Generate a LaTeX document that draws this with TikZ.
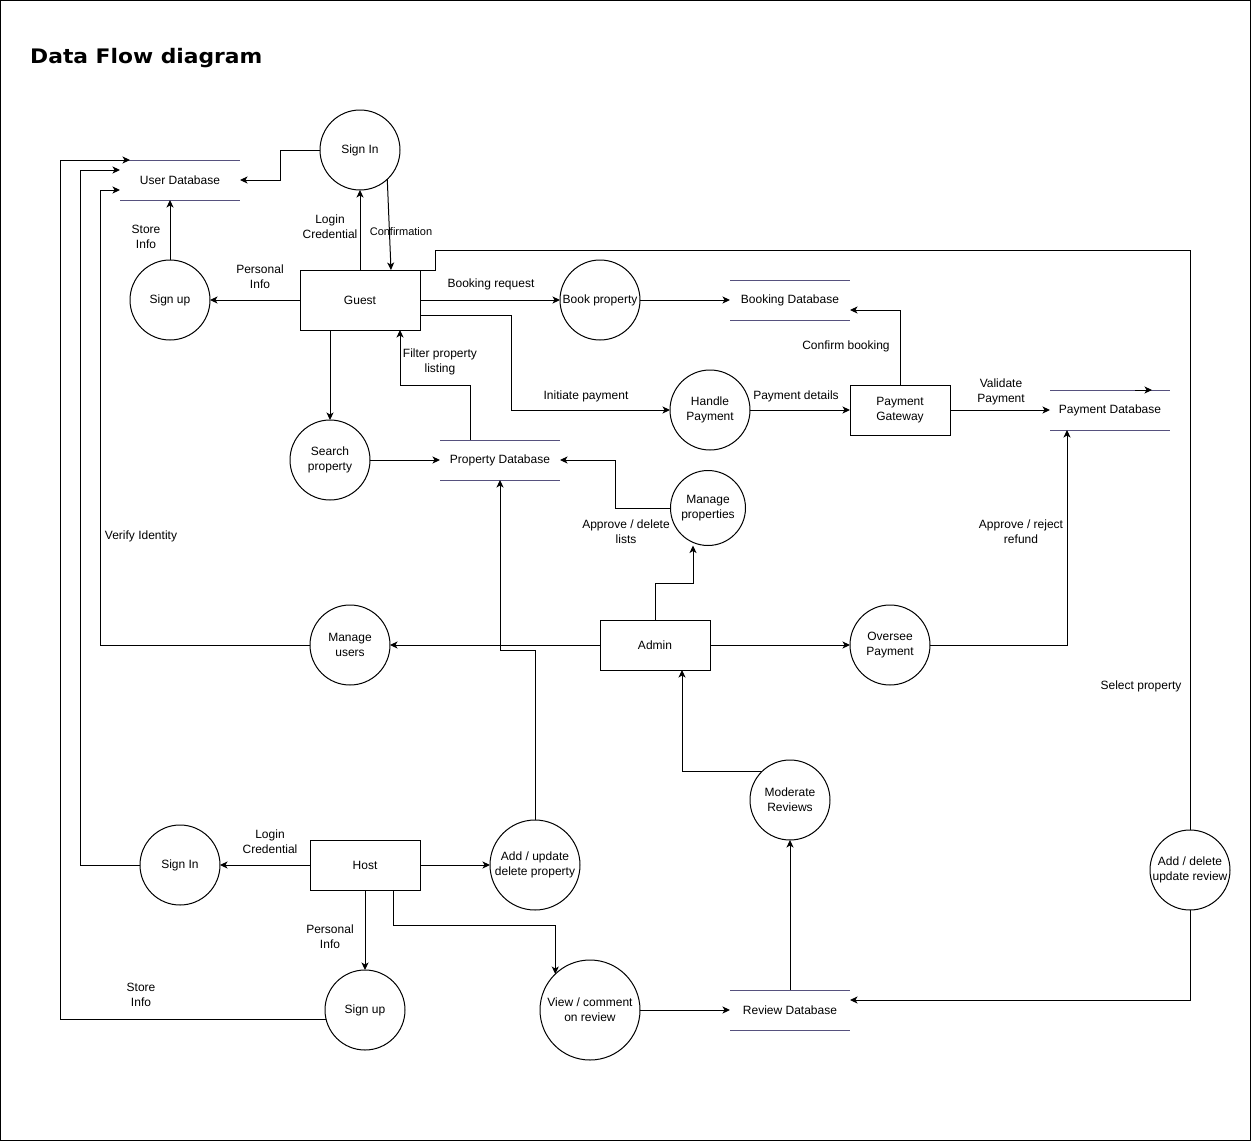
\documentclass[tikz,border=0pt]{standalone}
\usepackage{fontspec}
\setmainfont{Liberation Sans}
\newfontfamily\titlefont{DejaVu Sans}[FakeStretch=1.09]
\usetikzlibrary{arrows.meta,calc}
\definecolor{dbcol}{HTML}{56517E}
\newcommand\fs{\fontsize{12}{15}\selectfont}
\newcommand\fss{\fontsize{11}{13}\selectfont}
\newcommand\dbl[1]{\draw[dbline] (#1.north west) -- (#1.north east) (#1.south west) -- (#1.south east);}
\tikzset{
  proc/.style={circle, draw, line width=1pt, minimum size=80pt, inner sep=-8pt, outer sep=0pt, align=center, font=\fs},
  ent/.style={rectangle, draw, line width=1pt, inner sep=0pt, outer sep=0pt, align=center, font=\fs},
  store/.style={rectangle, minimum width=120pt, minimum height=40pt, inner sep=0pt, outer sep=0pt, font=\fs},
  dbline/.style={draw=dbcol, line width=1pt},
  lbl/.style={align=center, font=\fs, inner sep=0pt},
  flow/.style={-{Stealth[length=7.5pt,width=7pt,inset=2pt]}, line width=1pt},
  plain/.style={line width=1pt},
}
\begin{document}
\begin{tikzpicture}[x=1pt,y=-1pt]
\useasboundingbox (0,0) rectangle (1251,1141);
\draw[line width=1pt] (0.5,0.5) rectangle (1250,1140);
\node[anchor=base west, inner sep=0pt, font={\titlefont\bfseries\fontsize{20}{24}\selectfont}] (title) at (30,63.5) {Data Flow diagram};

% processes
\node[proc] (SignIn1) at (360,150) {Sign In};
\node[proc] (SignUp1) at (170,300) {Sign up};
\node[proc] (BookProp) at (600,300) {Book property};
\node[proc] (HandlePay) at (710,410) {Handle\\Payment};
\node[proc] (Search) at (330,460) {Search\\property};
\node[proc, minimum size=75pt] (MngProps) at (708,508) {Manage\\properties};
\node[proc] (MngUsers) at (350,645) {Manage\\users};
\node[proc] (Oversee) at (890,645) {Oversee\\Payment};
\node[proc] (Moderate) at (790,800) {Moderate\\Reviews};
\node[proc] (SignIn2) at (180,865) {Sign In};
\node[proc] (SignUp2) at (365,1010) {Sign up};
\node[proc, minimum size=90pt] (AddProp) at (535,865) {Add / update\\delete property};
\node[proc, minimum size=100pt] (View) at (590,1010) {View / comment\\on review};
\node[proc] (AddReview) at (1190,870) {Add / delete\\update review};

% entities
\node[ent, minimum width=120pt, minimum height=60pt] (Guest) at (360,300) {Guest};
\node[ent, minimum width=100pt, minimum height=50pt] (PayGate) at (900,410) {Payment\\Gateway};
\node[ent, minimum width=110pt, minimum height=50pt] (Admin) at (655,645) {Admin};
\node[ent, minimum width=110pt, minimum height=50pt] (Host) at (365,865) {Host};

% stores
\node[store] (UserDB) at (180,180) {User Database};
\node[store] (BookingDB) at (790,300) {Booking Database};
\node[store] (PropDB) at (500,460) {Property Database};
\node[store] (PayDB) at (1110,410) {Payment Database};
\node[store] (ReviewDB) at (790,1010) {Review Database};
\dbl{UserDB}\dbl{BookingDB}\dbl{PropDB}\dbl{PayDB}\dbl{ReviewDB}
\coordinate (pdbA) at ([xshift=25pt]PayDB.north);
\draw[flow] (pdbA) -- ++(17,0);

% connectors
\draw[flow] (SignIn1.west) -- ++(-40,0) |- (UserDB.east);
\draw[flow] (SignUp1.north) -- (SignUp1.north |- UserDB.south);
\draw[flow] (Guest.west) -- (SignUp1.east);
\draw[flow] (Guest.north) -- (SignIn1.south);
\draw[flow] (SignIn1.-47) -- ([xshift=31pt]Guest.north);
\draw[flow] (Guest.east) -- (BookProp.west);
\draw[flow] (BookProp.east) -- (BookingDB.west);
\draw[flow] ([yshift=-15pt]Guest.east) -- ++(91,0) |- (HandlePay.west);
\draw[flow] (HandlePay.east) -- (PayGate.west);
\draw[flow] (PayGate.north) |- ([yshift=-10pt]BookingDB.east);
\draw[flow] (PayGate.east) -- (PayDB.west);
\draw[flow] (Search.east) -- (PropDB.west);
\draw[flow] ([xshift=-30pt]Guest.south) -- (Search.north);
\draw[flow] ([xshift=-30pt]PropDB.north) -- ++(0,-55) -| ([xshift=40pt]Guest.south);
\draw[flow] (MngProps.west) -- ++(-55,0) |- (PropDB.east);
\draw[flow] (Admin.north) -- ++(0,-37) -| ([xshift=-15pt]MngProps.south);
\draw[flow] (Admin.west) -- (MngUsers.east);
\draw[flow] (MngUsers.west) -- ++(-210,0) |- ([yshift=-10pt]UserDB.west);
\draw[flow] (Admin.east) -- (Oversee.west);
\draw[flow] (Oversee.east) -| ([xshift=-43pt]PayDB.south);
\draw[flow] (Moderate.135.6) -| ([xshift=27pt]Admin.south);
\draw[flow] (AddProp.north) -- ++(0,-170) -| (PropDB.south);
\draw[flow] (Host.east) -- (AddProp.west);
\draw[flow] (Host.west) -- (SignIn2.east);
\draw[flow] (SignIn2.west) -- ++(-60,0) |- ([yshift=10pt]UserDB.west);
\draw[flow] (Host.south) -- (SignUp2.north);
\draw[flow] (SignUp2.194.5) -- ++(-265.3,0) |- ([xshift=10pt,yshift=20pt]UserDB.west);
\draw[flow] ([xshift=28pt]Host.south) -- ++(0,35) -| (View.134.4);
\draw[flow] (View.east) -- (ReviewDB.west);
\draw[flow] (ReviewDB.north) -- (Moderate.south);
\draw[flow] (AddReview.south) |- ([yshift=10pt]ReviewDB.east);
\draw[plain] (Guest.north east) -- ++(15,0) -- ++(0,-20) -| (AddReview.north);

% labels
\node[lbl] (l1) at (146,237) {Store\\Info};
\node[lbl] (l2) at (260,277) {Personal\\Info};
\node[lbl] (l3) at (330,227) {Login\\Credential};
\node[lbl, font=\fss] (l4) at (401,232) {Confirmation};
\node[lbl] (l5) at (491,284) {Booking request};
\node[lbl] (l6) at (440,362) {Filter property\\listing};
\node[lbl] (l7) at (586,396) {Initiate payment};
\node[lbl] (l8) at (796,396) {Payment details};
\node[lbl] (l9) at (846,346) {Confirm booking};
\node[lbl] (l10) at (1001,392) {Validate\\Payment};
\node[lbl] (l11) at (626,532) {Approve / delete\\lists};
\node[lbl] (l12) at (1021,532) {Approve / reject\\refund};
\node[lbl] (l13) at (141,536) {Verify Identity};
\node[lbl] (l14) at (1141,686) {Select property};
\node[lbl] (l15) at (270,842) {Login\\Credential};
\node[lbl] (l16) at (330,937) {Personal\\Info};
\node[lbl] (l17) at (141,995) {Store\\Info};
\end{tikzpicture}
\end{document}
